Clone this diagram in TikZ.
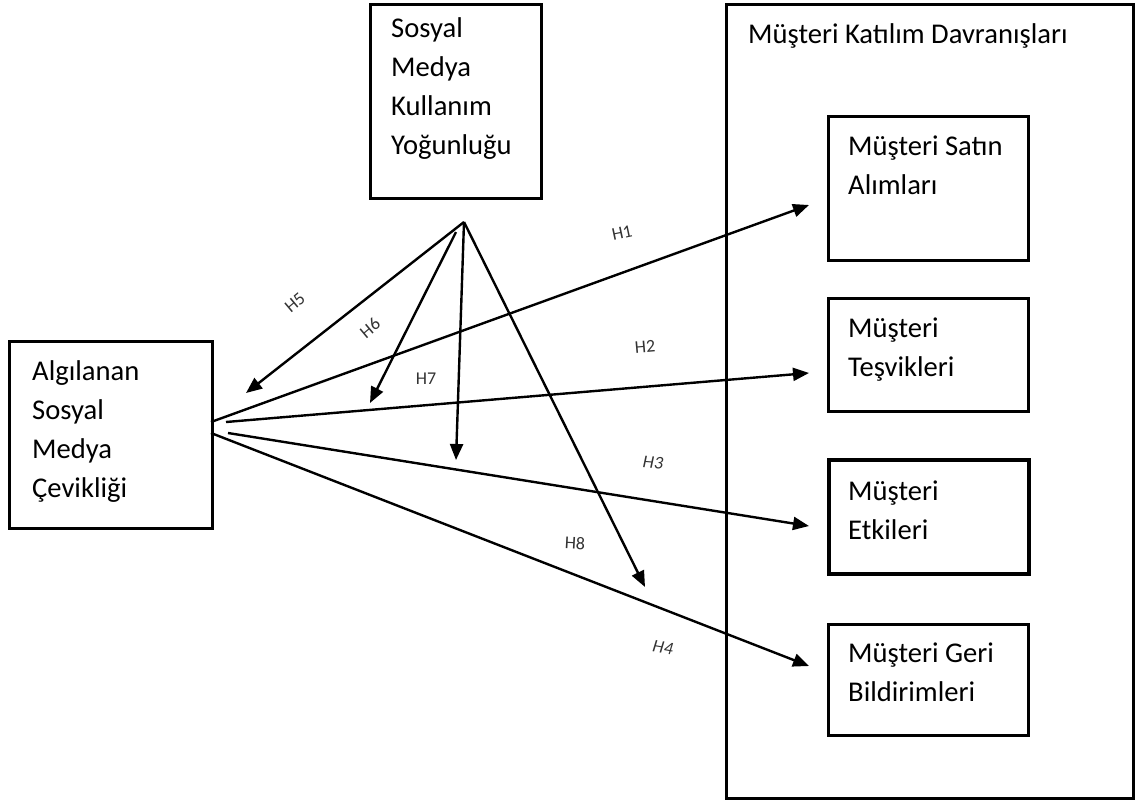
\documentclass[tikz,border=0pt]{standalone}
\usepackage{fontspec}
\setmainfont{Carlito}
\usetikzlibrary{arrows.meta}
\begin{document}
\begin{tikzpicture}[x=1pt,y=-1pt,
  box/.style={draw,line width=2.5pt,anchor=north west,inner sep=0pt},
  boxtext/.style={anchor=base west,align=left,inner sep=0pt,font=\fontsize{28.6}{39}\selectfont},
  arr/.style={line width=2.4pt,-{Triangle[length=16pt,width=13pt]}},
  hlab/.style={text=black!80,font=\fontsize{18}{20}\selectfont,inner sep=0pt}]
\useasboundingbox (0,0) rectangle (1135,801);
% boxes
\node[box,minimum width=171pt,minimum height=194pt] (smk) at (369,3) {};
\node[box,minimum width=203pt,minimum height=187pt] (ass) at (8,340) {};
\node[box,minimum width=407pt,minimum height=794pt] (mkd) at (725,3) {};
\node[box,minimum width=200pt,minimum height=144pt] (msa) at (827,115) {};
\node[box,minimum width=200pt,minimum height=113pt] (mte) at (827,297) {};
\node[box,line width=4pt,minimum width=200pt,minimum height=114pt] (met) at (827,458) {};
\node[box,minimum width=200pt,minimum height=111pt] (mgb) at (827,623) {};
% texts (anchor = baseline of last line)
\node[boxtext] (smkt) at (391,154) {Sosyal\\Medya\\Kullanım\\Yoğunluğu};
\node[boxtext] (asst) at (32,497) {Algılanan\\Sosyal\\Medya\\Çevikliği};
\node[boxtext] (mkdt) at (748,43) {Müşteri Katılım Davranışları};
\node[boxtext] (msat) at (848,194) {Müşteri Satın\\Alımları};
\node[boxtext] (mtet) at (848,376) {Müşteri\\Teşvikleri};
\node[boxtext] (mett) at (848,539) {Müşteri\\Etkileri};
\node[boxtext] (mgbt) at (848,701) {Müşteri Geri\\Bildirimleri};
% connector points
\coordinate (s1) at (211,422);
\coordinate (t1) at (809,205);
\coordinate (s2) at (226,422);
\coordinate (t2) at (809,373);
\coordinate (s3) at (228,433);
\coordinate (t3) at (809,526);
\coordinate (s4) at (211,433);
\coordinate (t4) at (809,666);
\coordinate (apex) at (464,222);
\coordinate (t5) at (246,393);
\coordinate (s6) at (456,232);
\coordinate (t6) at (370,403);
\coordinate (t7) at (456,460);
\coordinate (t8) at (645,587);
% connectors
\draw[arr] (s1) -- (t1);
\draw[arr] (s2) -- (t2);
\draw[arr] (s3) -- (t3);
\draw[arr] (s4) -- (t4);
\draw[arr] (apex) -- (t5);
\draw[arr] (s6) -- (t6);
\draw[arr] (apex) -- (t7);
\draw[arr] (apex) -- (t8);
% labels
\node[hlab,rotate=12] (l1) at (622,233) {H1};
\node[hlab,rotate=5] (l2) at (645,347) {H2};
\node[hlab,rotate=-5] (l3) at (653,463) {\itshape H3};
\node[hlab,rotate=-10] (l4) at (663,648) {\itshape H4};
\node[hlab,rotate=40] (l5) at (295,303) {H5};
\node[hlab,rotate=40] (l6) at (370,328) {H6};
\node[hlab] (l7) at (426,379) {H7};
\node[hlab,rotate=-3] (l8) at (575,543) {H8};
\end{tikzpicture}
\end{document}
